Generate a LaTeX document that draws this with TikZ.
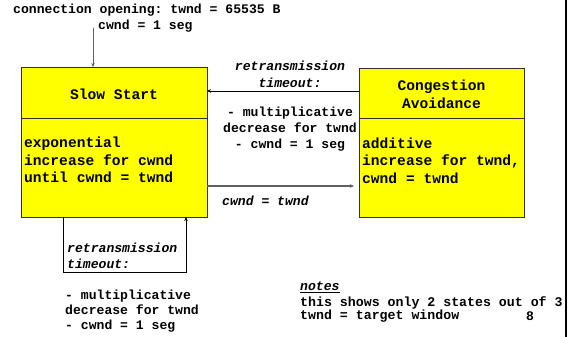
\documentclass[tikz,border=0pt]{standalone}
\usepackage{fontspec}
\setmonofont{Liberation Mono}
\usetikzlibrary{arrows.meta}
\definecolor{stateyellow}{HTML}{FFFF00}
\definecolor{edgegray}{HTML}{303030}
\definecolor{flowgray}{HTML}{606060}
\tikzset{
  statebox/.style={draw=edgegray, line width=1pt, fill=stateyellow, inner sep=0pt, anchor=north west},
  boxtext/.style={inner sep=0pt, font=\ttfamily\bfseries\fontsize{14.6}{17.3}\selectfont},
  lbl/.style={inner sep=0pt, font=\ttfamily\bfseries\fontsize{13.1}{16}\selectfont},
  lblit/.style={inner sep=0pt, font=\ttfamily\bfseries\itshape\fontsize{13.1}{16.5}\selectfont},
  notetext/.style={inner sep=0pt, font=\ttfamily\bfseries\fontsize{13.25}{14}\selectfont},
  flow/.style={line width=0.9pt, -{Stealth[length=4pt,width=3.5pt]}},
}
\begin{document}
\begin{tikzpicture}[x=1pt,y=-1pt]
\useasboundingbox (0,0) rectangle (570,337);

% page frame on the right
\draw[line width=1.5pt] (566,0) -- (566,337);

% states
\node[statebox, minimum width=186pt, minimum height=51pt] (sstop) at (21,67) {};
\node[statebox, minimum width=186pt, minimum height=99pt] (ssbody) at (21,118) {};
\node[statebox, minimum width=165pt, minimum height=50pt] (catop) at (359,68) {};
\node[statebox, minimum width=165pt, minimum height=99pt] (cabody) at (359,118) {};

\node[boxtext] (sstitle) at (114,94.5) {Slow Start};
\node[boxtext, align=left, anchor=west] (sstext) at (24,160) {exponential\\increase for cwnd\\until cwnd = twnd};
\node[boxtext, align=center] (catitle) at (441.5,94.2) {Congestion\\Avoidance};
\node[boxtext, align=left, anchor=west] (catext) at (362,160.5) {additive\\increase for twnd,\\cwnd = twnd};

% initial transition
\node[lbl, anchor=west] (open) at (13,10) {connection opening: twnd = 65535 B};
\node[lbl, anchor=west] (openb) at (98,26) {cwnd = 1 seg};
\coordinate (start) at (93,28);
\draw[flow, line width=0.8pt, draw=flowgray] (start) -- (start |- sstop.north);

% timeout from congestion avoidance back to slow start
\coordinate (rtA) at (359,91);
\coordinate (rtB) at (207,91);
\draw[flow, line width=0.8pt] (rtA) -- (rtB);
\node[lblit, align=center] (rtlabel) at (290,74.5) {retransmission\\timeout:};
\node[lbl, align=center] (rtact) at (290,129) {- multiplicative\\decrease for twnd\\- cwnd = 1 seg};

% threshold reached
\coordinate (thA) at (207,186);
\coordinate (thB) at (359,186);
\draw[flow, draw=flowgray, line width=1.2pt, shorten >=5pt] (thA) -- (thB);
\node[lblit, anchor=west] (thlabel) at (222,201) {cwnd = twnd};

% timeout within slow start
\coordinate (lpA) at (63,217);
\coordinate (lpB) at (186,217);
\draw[flow, line width=0.8pt] (lpA) -- (63,272) -- (186,272) -- (lpB);
\node[lblit, align=left, anchor=west] (lplabel) at (67,256) {retransmission\\timeout:};
\node[lbl, align=left, anchor=west, font=\ttfamily\bfseries\fontsize{13.1}{15}\selectfont] (lpact) at (65,311) {- multiplicative\\decrease for twnd\\- cwnd = 1 seg};

% notes
\node[lblit, anchor=west] (notes) at (300,287) {\underline{notes}};
\node[notetext, anchor=west] (note1) at (300,302.5) {this shows only 2 states out of 3};
\node[notetext, anchor=west] (note2) at (300,316.5) {twnd = target window};
\node[lbl] (pageno) at (530,316.5) {8};
\end{tikzpicture}
\end{document}
